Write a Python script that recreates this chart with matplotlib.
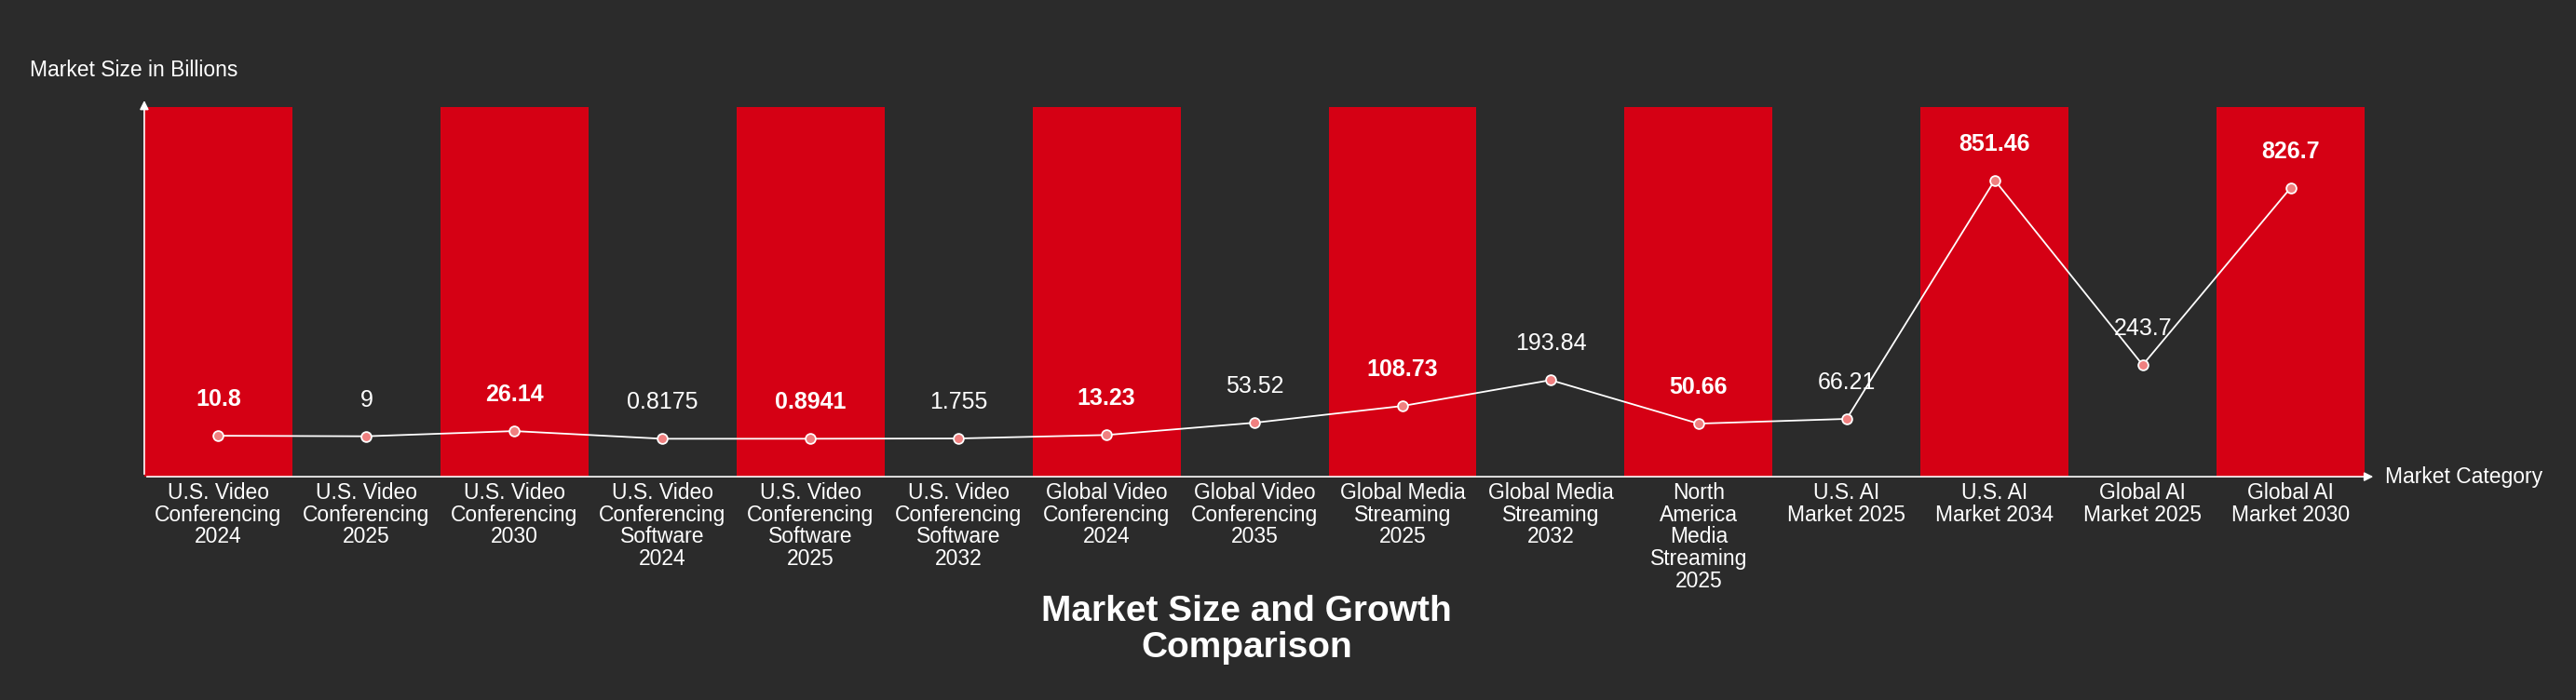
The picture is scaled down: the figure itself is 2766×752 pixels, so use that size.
import matplotlib
matplotlib.use("Agg")
import matplotlib.pyplot as plt

plt.rcParams['font.family'] = ['Liberation Sans', 'DejaVu Sans']

categories = ["U.S. Video\nConferencing\n2024", "U.S. Video\nConferencing\n2025", "U.S. Video\nConferencing\n2030",
              "U.S. Video\nConferencing\nSoftware\n2024", "U.S. Video\nConferencing\nSoftware\n2025",
              "U.S. Video\nConferencing\nSoftware\n2032", "Global Video\nConferencing\n2024",
              "Global Video\nConferencing\n2035", "Global Media\nStreaming\n2025", "Global Media\nStreaming\n2032",
              "North\nAmerica\nMedia\nStreaming\n2025", "U.S. AI\nMarket 2025", "U.S. AI\nMarket 2034",
              "Global AI\nMarket 2025", "Global AI\nMarket 2030"]
values = [10.8, 9, 26.14, 0.8175, 0.8941, 1.755, 13.23, 53.52, 108.73, 193.84, 50.66, 66.21, 851.46, 243.7, 826.7]
labels = ["10.8", "9", "26.14", "0.8175", "0.8941", "1.755", "13.23", "53.52", "108.73", "193.84", "50.66",
          "66.21", "851.46", "243.7", "826.7"]

bg = "#2b2b2b"
red = "#d50014"
fig = plt.figure(figsize=(27.66, 7.52), dpi=100, facecolor=bg)
ax = fig.add_axes([0.056, 0.319, 0.862, 0.528], facecolor=bg)
ymin, ymax = -124, 1092
n = len(values)
x = list(range(n))
ev = [i for i in x if i % 2 == 0]
ax.bar(ev, [ymax - ymin] * len(ev), bottom=ymin, width=1.0, color=red, zorder=1)
ax.plot(x, values, color="white", lw=1.3, zorder=3)
ax.scatter(x, values, s=60, facecolor="#f08080", edgecolor="white", linewidth=1.3, zorder=4)
for i, (v, l) in enumerate(zip(values, labels)):
    ax.annotate(l, (i, v), xytext=(0, 28), textcoords="offset points", ha="center", va="center",
                color="white", fontsize=18, fontweight="bold" if i % 2 == 0 else "normal")
ax.set_xlim(-0.5, n - 0.5)
ax.set_ylim(ymin, ymax)
ax.set_yticks([])
ax.set_xticks(x)
ax.set_xticklabels(categories, color="white", fontsize=16.5, linespacing=1.05)
ax.tick_params(axis="x", length=0, pad=4)
for s in ax.spines.values():
    s.set_visible(False)
ax.annotate("", xy=(1.005, 0), xytext=(0, 0), xycoords="axes fraction",
            arrowprops=dict(arrowstyle="-|>", color="white", lw=1.2, mutation_scale=14))
ax.annotate("", xy=(0, 1.025), xytext=(0, 0), xycoords="axes fraction",
            arrowprops=dict(arrowstyle="-|>", color="white", lw=1.2, mutation_scale=14))
fig.text(0.0115, 0.9, "Market Size in Billions", color="white", fontsize=16.5, va="center")
fig.text(0.926, 0.319, "Market Category", color="white", fontsize=16.5, va="center")
fig.text(0.484, 0.1, "Market Size and Growth\nComparison", color="white", fontsize=28, fontweight="bold",
         ha="center", va="center", linespacing=1.1)
fig.savefig("out.png", dpi=100, facecolor=bg)
